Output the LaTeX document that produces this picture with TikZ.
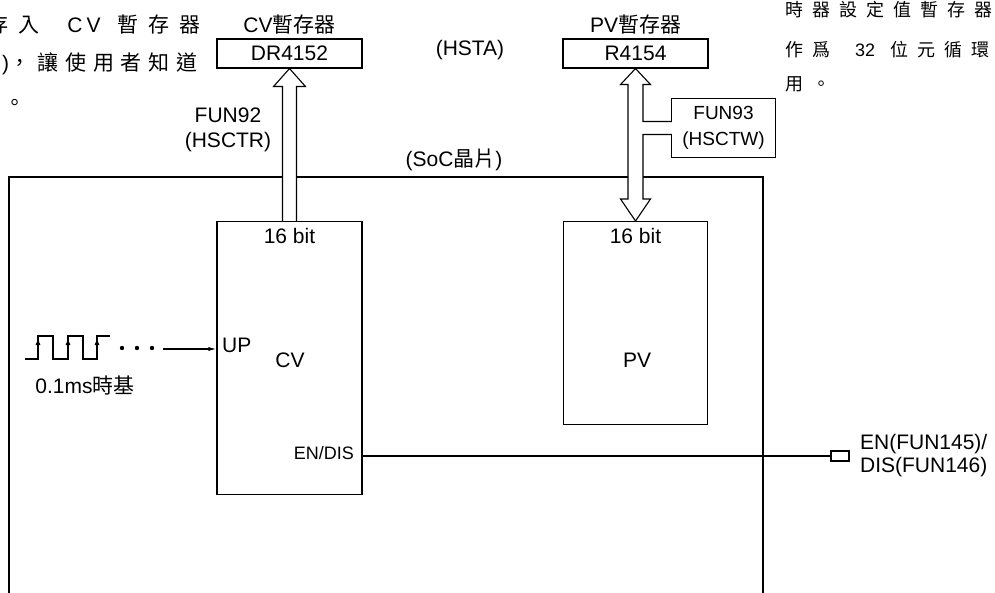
\documentclass[tikz,border=0pt]{standalone}
\usepackage{fontspec}
\setmainfont{Liberation Sans}
\newfontfamily\cjk{Noto Sans CJK TC}
\usetikzlibrary{positioning,calc,arrows.meta}

% letter-spaced running text
\newcommand{\cjkls}[2]{{\cjk\addfontfeature{LetterSpace=#1}#2}}

\begin{document}
\begin{tikzpicture}[x=1pt, y=-1pt,
    wire/.style={line width=1.1pt},
    box/.style={draw, line width=1.1pt, inner sep=0pt},
    regbox/.style={box, minimum width=145pt, minimum height=29pt, font=\fontsize{21}{25}\selectfont},
    lbl/.style={font=\fontsize{21}{25}\selectfont, align=center},
    small/.style={font=\fontsize{19}{26}\selectfont, align=center},
    leftpara/.style={font=\fontsize{21}{24}\selectfont, inner sep=0pt},
    rightpara/.style={font=\fontsize{18}{21}\selectfont, inner sep=0pt},
    hollow/.style={draw, line width=1.1pt, fill=white}
]
\useasboundingbox (0,0) rectangle (995,593);

% Running text round the figure
\node[leftpara, anchor=base east] (txtla) at (201,33)
    {\cjkls{48}{存入}\hspace{28pt}C\hspace{4pt}V\hspace{17pt}\cjkls{48}{暫存器}};
\node[leftpara, anchor=base east] (txtlb) at (198,71)
    {)\cjkls{33}{，讓使用者知道}};
\node[leftpara, anchor=base west] (txtlc) at (4,111) {\cjkls{33}{。}};
\node[rightpara, anchor=base west] (txtra) at (785,17)
    {\cjkls{50}{時器設定值暫存器}};
\node[rightpara, anchor=base west] (txtrb) at (785,57)
    {\cjkls{50}{作爲}\hspace{25pt}32\hspace{15pt}\cjkls{50}{位元循環}};
\node[rightpara, anchor=base west] (txtrc) at (785,91) {\cjkls{50}{用。}};

% Registers outside the chip
\node[regbox] (dr) at (289.5,53.5) {DR4152};
\node[lbl, above=1pt of dr] (drlbl) {CV{\cjk 暫存器}};
\node[regbox] (rr) at (635.5,53.5) {R4154};
\node[lbl, above=1pt of rr] (rrlbl) {PV{\cjk 暫存器}};
\node[lbl] (hsta) at (470,50) {(HSTA)};
\node[lbl] (fun92) at (228,130) {FUN92\\(HSCTR)};
\node[small, minimum width=103pt, minimum height=59pt] (fun93) at (723.5,128) {FUN93\\(HSCTW)};
\coordinate (b1) at ($(fun93.west)+(0,-6.5)$);
\coordinate (b2) at ($(fun93.west)+(0,6.5)$);

% Chip frame
\draw[wire] (9,593) |- (763,177) -- (763,593);
\node[lbl] (soc) at (454,160) {(SoC{\cjk 晶片})};

% Counter blocks
\coordinate (cvtop) at (289.5,221);
\coordinate (pvtop) at (635.5,221);

% Read: CV -> DR4152
\draw[hollow] ($(cvtop)+(-7,0)$) -- ($(dr.south)+(-7,18)$) -- ($(dr.south)+(-16,18)$)
    -- (dr.south) -- ($(dr.south)+(16,18)$) -- ($(dr.south)+(7,18)$) -- ($(cvtop)+(7,0)$);

% Write: R4154 <-> PV
\fill[white] (rr.south) -- ++(15,16) -- ++(-7.5,0) -- ($(pvtop)+(7.5,-22)$) -- ++(7.5,0)
    -- (pvtop) -- ++(-15,-22) -- ++(7.5,0) -- ($(rr.south)+(-7.5,16)$) -- ++(-7.5,0) -- cycle;
\draw[wire] (b1) -| ($(rr.south)+(7.5,16)$) -- ++(7.5,0) -- (rr.south) -- ++(-15,16) -- ++(7.5,0)
    -- ($(pvtop)+(-7.5,-22)$) -- ++(-7.5,0) -- (pvtop) -- ++(15,-22) -- ++(-7.5,0) |- (b2);
\draw[wire] (b1) |- (fun93.north east) |- (fun93.south west) -- (b2);

\node[box, minimum width=145pt, minimum height=273pt, anchor=north] (cv) at (cvtop) {};
\node[box, minimum width=144pt, minimum height=203pt, anchor=north] (pv) at (pvtop) {};
\node[lbl, below=4pt of cv.north] (cvbits) {16 bit};
\node[lbl, below=4pt of pv.north] (pvbits) {16 bit};
\node[lbl] (cvname) at (290,360) {CV};
\node[lbl] (pvname) at (637,360) {PV};
\node[lbl, anchor=west, inner sep=0pt] (up) at (222,345) {UP};
\node[font=\fontsize{18}{22}\selectfont, anchor=east, inner sep=0pt] (endis) at (354,453) {EN/DIS};

% 0.1ms time base
\draw[wire] (25,359) -| (38,336) -| (53,359) -| (68,336) -| (83,359) -| (97,336) -- (110,336);
\foreach \x in {38,68,97}
    \draw[wire, -{Latex[length=7pt,width=5pt]}] (\x,359) -- (\x,338);
\foreach \x in {122,137,152}
    \fill (\x,348) circle (2.2pt);
\coordinate (clk) at (163,349);
\draw[wire, -{Latex[length=8pt,width=4pt]}] (clk) -- (clk -| cv.west);
\node[lbl] (tb) at (85,385) {0.1ms{\cjk 時基}};

% Enable / disable
\node[box, minimum width=18pt, minimum height=10pt] (term) at (840,456) {};
\draw[wire] (cv.east |- term) -- (term);
\node[lbl, right=7pt of term, align=left, font=\fontsize{21}{23}\selectfont] (ensig) {EN(FUN145)/\\DIS(FUN146)};

\end{tikzpicture}
\end{document}
